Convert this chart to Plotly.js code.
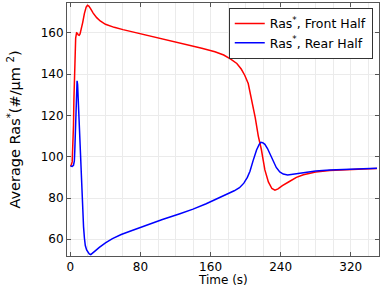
<!DOCTYPE html>
<html>
<head>
<meta charset="utf-8">
<script src="https://cdn.plot.ly/plotly-3.0.1.min.js"></script>
<style>html,body{margin:0;padding:0;background:#fff}#chart{width:382px;height:286px}</style>
</head>
<body>
<div id="chart"></div>
<script>
const frontTime = [0,1,2,3,3.5,4,4.5,5,5.5,6,7,8,9,10,11,12,14,16,18,19.5,21,23,26,30,34,40,50,60,75,90,110,130,150,165,175,183,190,195,199,203,207,211,214.5,218,222,226,230,233.5,237,242,250,258,266,280,296,315,335,350];
const frontValues = [95.5,96,97.5,105,115,128,140,148,154,157.5,160,159.8,159,158.8,159.5,161,165,169.5,172.5,173.4,173,171.8,169.6,167.4,165.8,164.2,162.7,161.6,160.1,158.7,156.8,154.8,152.6,150.9,149.3,147.3,145.2,142.5,139.5,135.5,127.4,119,110,103.5,93.6,87.8,84.6,83.8,84.4,86,88,90,91.3,92.6,93.3,93.8,94.1,94.3];
const rearTime = [0,2,3.5,4.5,5,5.5,6,6.5,7,7.6,8.2,9,10,11,12,13,14,15,16,17,18.5,20,21.5,23.2,25,28,33,40,48,58,68,80,90,105,125,140,155,167,178,187,193,198,202,205,208.5,212.5,215.5,217.5,219.5,222,225,228,231,235,239,243,248,255,265,280,296,315,335,350];
const rearValues = [95.5,95.3,95.8,98,103,110,118,126,132,136.8,135,127,114,102,91,81,73,66,60.5,57,54.8,53.5,52.9,52.6,53.1,54.3,56.1,58.3,60.3,62.3,63.9,65.8,67.3,69.6,72.4,74.6,77.2,79.5,81.6,83.5,85,87.2,90,93,98,103.3,106,107,106.8,106,104,101,98,94.8,92.6,91.6,91.2,91.6,92.3,93.1,93.6,94,94.3,94.4];
const seriesNames = ['Ras<sup>*</sup>, Front Half', 'Ras<sup>*</sup>, Rear Half'];
const xTickVals = [0,80,160,240,320];
const yTickVals = [60,80,100,120,140,160];
const xTitle = 'Time (s)';
const yTitle = 'Average Ras<sup>*</sup>(#/µm <sup>2</sup>)';

const font = {family: 'DejaVu Sans', size: 12, color: '#000'};
const traces = [
  {x: frontTime, y: frontValues, name: seriesNames[0], type: 'scatter', mode: 'lines', line: {color: '#ff0000', width: 1.5}},
  {x: rearTime, y: rearValues, name: seriesNames[1], type: 'scatter', mode: 'lines', line: {color: '#0000ff', width: 1.5}}
];
const axisCommon = {
  showline: true, linecolor: '#555', linewidth: 1, mirror: 'ticks',
  ticks: 'inside', ticklen: 4, tickcolor: '#555', tickwidth: 1,
  showgrid: true, gridcolor: '#ebebeb', gridwidth: 1, zeroline: false,
  tickfont: font, automargin: false
};
const layout = {
  width: 382, height: 286,
  margin: {l: 67, r: 3, t: 3, b: 30},
  paper_bgcolor: '#fff', plot_bgcolor: '#fff',
  font: font,
  showlegend: true,
  legend: {x: 0.98, y: 0.981, xanchor: 'right', yanchor: 'top', bgcolor: '#fff', bordercolor: '#333', borderwidth: 1, font: {family: 'DejaVu Sans', size: 12.5, color: '#000'}, tracegroupgap: 0},
  xaxis: Object.assign({}, axisCommon, {
    range: [-3.9, 352.3], tickvals: xTickVals, ticktext: xTickVals.map(String),
    minor: {dtick: 20, tick0: 0, showgrid: true, gridcolor: '#ebebeb', ticks: ''}
  }),
  yaxis: Object.assign({}, axisCommon, {
    range: [51.9, 174.5], tickvals: yTickVals, ticktext: yTickVals.map(String),
    title: {text: yTitle, font: {family: 'DejaVu Sans', size: 14.5, color: '#000'}, standoff: 16}
  }),
  annotations: [{
    text: xTitle, xref: 'paper', yref: 'paper', x: 0.5, y: -0.093,
    xanchor: 'center', yanchor: 'middle', showarrow: false, borderpad: 0,
    font: {family: 'DejaVu Sans', size: 12, color: '#000'}
  }]
};
Plotly.newPlot('chart', traces, layout, {staticPlot: true, displayModeBar: false});
</script>
</body>
</html>
